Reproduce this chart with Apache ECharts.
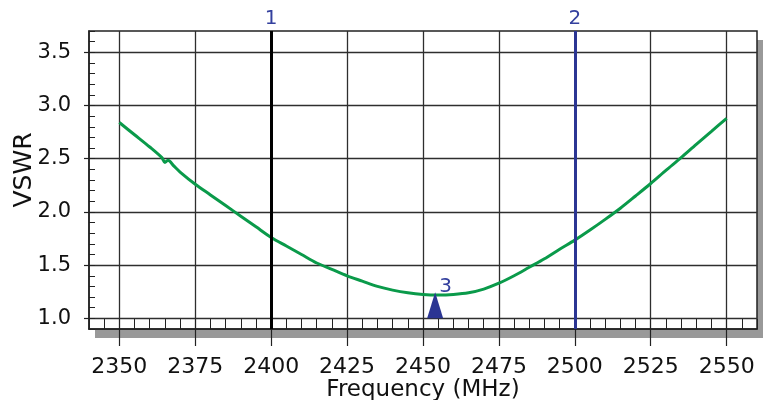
<!DOCTYPE html>
<html>
<head>
<meta charset="utf-8">
<script src="https://cdn.jsdelivr.net/npm/echarts@6/dist/echarts.min.js"></script>
<style>
html,body{margin:0;padding:0;background:#fff;}
#chart{width:771px;height:400px;}
</style>
</head>
<body>
<div id="chart"></div>
<script>
// ---- data ----
const freqMHz = [2350, 2355, 2360, 2364, 2365, 2366, 2368, 2370, 2375, 2380, 2385, 2390, 2395, 2400,
  2405, 2410, 2415, 2420, 2425, 2430, 2435, 2440, 2445, 2450, 2455, 2460, 2465, 2470, 2475,
  2480, 2485, 2490, 2495, 2500, 2505, 2510, 2515, 2520, 2525, 2530, 2535, 2540, 2545, 2550];
const vswr = [2.84, 2.725, 2.61, 2.51, 2.465, 2.485, 2.43, 2.375, 2.26, 2.16, 2.06, 1.96, 1.86, 1.76,
  1.68, 1.60, 1.52, 1.46, 1.40, 1.35, 1.30, 1.265, 1.24, 1.225, 1.22, 1.225, 1.24, 1.275, 1.33,
  1.40, 1.48, 1.56, 1.65, 1.735, 1.83, 1.93, 2.035, 2.15, 2.267, 2.39, 2.51, 2.635, 2.757, 2.88];
const xTickLabels = [2350, 2375, 2400, 2425, 2450, 2475, 2500, 2525, 2550];
const yTickLabels = [1.0, 1.5, 2.0, 2.5, 3.0, 3.5];
const markerFreqs = [2400, 2500];
const markerNames = ['1', '2'];
const minMarkerFreq = 2454;
const minMarkerBase = 1.0;
const minMarkerName = '3';

// ---- layout / style ----
const X_MIN = 2340, X_MAX = 2560, Y_MIN = 0.9, Y_MAX = 3.7;
const G = {left: 89, top: 31, width: 668, height: 298};
const FONT = 'DejaVu Sans';
const BLUE = '#2B3593';
const LBLUE = '#34409E';
const GREEN = '#0A9A4A';
const GRID_C = '#2e2e2e';

const chart = echarts.init(document.getElementById('chart'), null, {renderer: 'canvas'});

const markerLineData = markerFreqs.map((f, i) => [
  {coord: [f, Y_MIN], name: markerNames[i],
   lineStyle: {color: i === 0 ? '#000' : BLUE, width: 3, type: 'solid'}},
  {coord: [f, Y_MAX]}
]);

chart.setOption({
  animation: false,
  backgroundColor: '#fff',
  graphic: [{
    type: 'rect', z: -10, silent: true,
    shape: {x: G.left + 6, y: G.top + 9, width: G.width, height: G.height},
    style: {fill: '#999'}
  }],
  grid: {left: G.left, top: G.top, width: G.width, height: G.height,
    containLabel: false, outerBoundsMode: 'none',
    show: true, backgroundColor: '#fff', borderColor: '#222', borderWidth: 1.5},
  xAxis: [{
    type: 'value', min: X_MIN, max: X_MAX, gridIndex: 0,
    name: 'Frequency (MHz)', nameLocation: 'middle', nameGap: 50, nameMoveOverlap: false,
    nameTextStyle: {fontFamily: FONT, fontSize: 23, color: '#111'},
    axisLine: {show: true, onZero: false, lineStyle: {color: '#222', width: 1.5}},
    axisTick: {show: true, inside: false, length: 17, customValues: xTickLabels,
      lineStyle: {color: '#222', width: 1.2}},
    axisLabel: {customValues: xTickLabels, margin: 27, fontFamily: FONT, fontSize: 22, color: '#111',
      formatter: v => String(v)},
    splitLine: {show: true, lineStyle: {color: GRID_C, width: 1.3}}
  }, {
    type: 'value', min: X_MIN, max: X_MAX, interval: 5, gridIndex: 0, position: 'bottom',
    axisLine: {show: false},
    axisTick: {show: true, inside: true, length: 10, lineStyle: {color: '#222', width: 1}},
    axisLabel: {show: false},
    splitLine: {show: false}
  }],
  yAxis: [{
    type: 'value', min: Y_MIN, max: Y_MAX, gridIndex: 0,
    name: 'VSWR', nameLocation: 'middle', nameGap: 52, nameRotate: 90, nameMoveOverlap: false,
    nameTextStyle: {fontFamily: FONT, fontSize: 25, color: '#111', padding: [0, 0, 0, 20]},
    axisLine: {show: true, onZero: false, lineStyle: {color: '#222', width: 1.5}},
    axisTick: {show: true, inside: false, length: 5, customValues: yTickLabels,
      lineStyle: {color: '#222', width: 1.2}},
    axisLabel: {customValues: yTickLabels, margin: 18, fontFamily: FONT, fontSize: 21, color: '#111',
      formatter: v => v.toFixed(1)},
    splitLine: {show: true, lineStyle: {color: GRID_C, width: 1.3}}
  }, {
    type: 'value', min: Y_MIN, max: Y_MAX, interval: 0.1, gridIndex: 0, position: 'left',
    axisLine: {show: false},
    axisTick: {show: true, inside: true, length: 6, lineStyle: {color: '#222', width: 1}},
    axisLabel: {show: false},
    splitLine: {show: false}
  }],
  series: [{
    type: 'line', xAxisIndex: 0, yAxisIndex: 0,
    data: freqMHz.map((f, i) => [f, vswr[i]]),
    smooth: 0.3, showSymbol: false, z: 5,
    lineStyle: {color: GREEN, width: 3},
    markLine: {
      silent: true, symbol: ['none', 'none'], z: 6,
      label: {show: true, position: 'end', formatter: p => p.name, color: LBLUE,
        fontFamily: FONT, fontSize: 20, distance: 2},
      data: markerLineData
    }
  }, {
    type: 'scatter', xAxisIndex: 0, yAxisIndex: 0, z: 7,
    data: [[minMarkerFreq, minMarkerBase]],
    symbol: 'triangle', symbolSize: [16, 26], symbolOffset: [0, '-50%'],
    itemStyle: {color: BLUE, opacity: 1},
    label: {show: true, formatter: minMarkerName, position: [12, -16], color: LBLUE,
      fontFamily: FONT, fontSize: 20}
  }]
});
</script>
</body>
</html>
